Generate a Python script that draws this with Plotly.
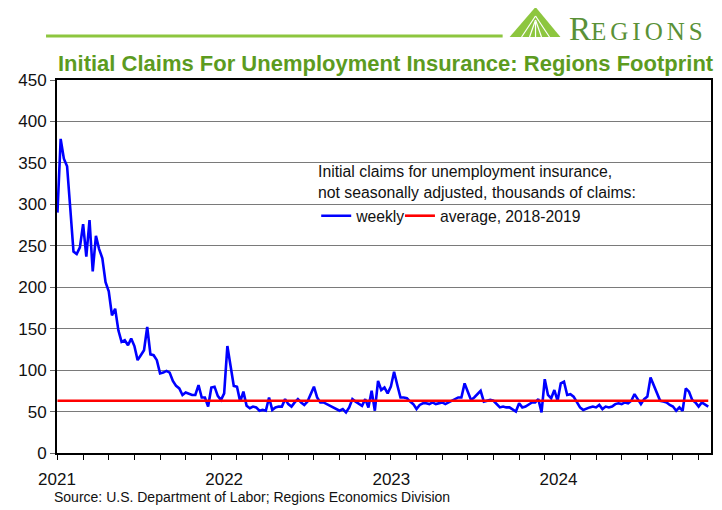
import pandas as pd
import plotly.graph_objects as go

# weekly initial claims, thousands, weeks ending from 2021-01-02
weekly = [
    290, 379, 355, 346, 295, 243, 240, 248, 276, 237,
    281, 219, 262, 246, 235, 206, 195, 166, 174, 148,
    134, 136, 130, 138, 129, 112, 118, 124, 152, 119,
    118, 112, 96, 97, 99, 97, 87, 81, 78, 70,
    73, 71, 70, 70, 82, 67, 67, 56, 79, 80,
    69, 64, 72, 129, 104, 81, 80, 62, 74, 57,
    54, 56, 55, 51, 52, 51, 67, 52, 55, 56,
    56, 65, 59, 56, 61, 65, 61, 58, 62, 70,
    80, 67, 61, 61, 59, 57, 55, 52, 51, 53,
    49, 55, 65, 62, 59, 57, 65, 55, 75, 51,
    87, 76, 79, 72, 80, 98, 82, 67, 67, 66,
    62, 59, 53, 58, 60, 60, 59, 61, 59, 60,
    61, 59, 61, 62, 64, 67, 67, 84, 74, 64,
    67, 71, 75, 62, 63, 64, 63, 59, 55, 56,
    55, 55, 52, 50, 60, 55, 56, 58, 61, 61,
    65, 49, 89, 70, 66, 76, 63, 84, 86, 70,
    71, 68, 61, 55, 52, 54, 55, 56, 55, 58,
    53, 56, 55, 56, 59, 60, 59, 61, 60, 63,
    71, 65, 59, 65, 68, 91, 82, 74, 63, 62,
    61, 58, 56, 51, 55, 51, 78, 74, 64, 61,
    56, 61, 59, 56,
]
first_week = "2021-01-02"
average_2018_2019 = 63
year_labels = ["2021", "2022", "2023", "2024"]
year_dates = ["2021-01-01", "2022-01-01", "2023-01-01", "2024-01-01"]

dates = pd.date_range(start=first_week, periods=len(weekly), freq="7D")

# page offset (body margin) and plot area in page pixels
OFF = 8
W, H = 722 - OFF, 510 - OFF
L, R, T, B = 57 - OFF, 713 - OFF, 80 - OFF, 453 - OFF


def px(x):
    # page x pixel -> paper coordinate
    return (x - OFF - L) / (R - L)


def py(y):
    # page y pixel -> paper coordinate
    return (B - (y - OFF)) / (B - T)


fig = go.Figure()
fig.add_trace(go.Scatter(
    x=dates, y=weekly, mode="lines", name="weekly",
    line=dict(color="#0000ff", width=2.6), legend="legend",
))
fig.add_trace(go.Scatter(
    x=[dates[0], dates[-1]], y=[average_2018_2019, average_2018_2019],
    mode="lines", name="average, 2018-2019",
    line=dict(color="#ff0000", width=2.6), legend="legend2",
))

shapes = []
# top green rule
shapes.append(dict(type="line", xref="paper", yref="paper",
                   x0=px(46), x1=px(504), y0=py(36), y1=py(36),
                   line=dict(color="#8dc63f", width=3)))
# logo triangle
shapes.append(dict(type="path", xref="paper", yref="paper",
                   path=f"M {px(511)},{py(37)} L {px(537)},{py(7)} L {px(562)},{py(37)} Z",
                   fillcolor="#8dc63f", line=dict(width=0)))
for (xa, ya, xb, yb) in [(537, 16, 523, 37), (537, 16, 551, 37), (537, 20, 531, 37),
                         (537, 20, 543, 37), (537, 22, 537, 37)]:
    shapes.append(dict(type="line", xref="paper", yref="paper",
                       x0=px(xa), y0=py(ya), x1=px(xb), y1=py(yb),
                       line=dict(color="white", width=1.2)))

annotations = [
    dict(text="<b>Initial Claims For Unemployment Insurance: Regions Footprint</b>",
         xref="paper", yref="paper", x=px(56), y=py(64), xanchor="left", yanchor="middle",
         showarrow=False,
         font=dict(family="Liberation Sans, Arial, sans-serif", size=22, color="#5c9b1f")),
    dict(text="R<span style='font-size:25px;letter-spacing:4px'>EGIONS</span>",
         xref="paper", yref="paper", x=px(569), y=py(49), xanchor="left", yanchor="bottom",
         showarrow=False, font=dict(family="Liberation Serif, serif", size=33, color="#5a9137")),
    dict(text="Initial claims for unemployment insurance,<br>not seasonally adjusted, thousands of claims:",
         xref="paper", yref="paper", x=px(317), y=py(182), xanchor="left", yanchor="middle",
         align="left", showarrow=False,
         font=dict(family="Liberation Sans, Arial, sans-serif", size=15.8, color="#111111")),
    dict(text="Source: U.S. Department of Labor; Regions Economics Division",
         xref="paper", yref="paper", x=px(52), y=py(497), xanchor="left", yanchor="middle",
         showarrow=False,
         font=dict(family="Liberation Sans, Arial, sans-serif", size=14, color="#111111")),
]

legend_style = dict(orientation="h", yanchor="middle", bgcolor="rgba(0,0,0,0)",
                    font=dict(size=15.7, color="#111111"), itemwidth=30)

fig.update_layout(
    width=W, height=H,
    margin=dict(l=L, r=W - R, t=T, b=H - B),
    paper_bgcolor="white", plot_bgcolor="white",
    font=dict(family="Liberation Sans, Arial, sans-serif", color="#111111"),
    showlegend=True,
    legend=dict(x=px(317), y=py(216), xanchor="left", **legend_style),
    legend2=dict(x=px(401), y=py(216), xanchor="left", **legend_style),
    shapes=shapes,
    annotations=annotations,
)
fig.update_xaxes(
    type="date",
    range=["2021-01-01", "2024-11-29"],
    tickmode="array", tickvals=year_dates, ticktext=year_labels,
    ticks="", ticklen=0, tickfont=dict(size=17, color="#111111"),
    ticklabelstandoff=10,
    showgrid=False, zeroline=False,
    showline=True, linecolor="black", linewidth=2, mirror=True,
    minor=dict(tick0=first_week, dtick=56 * 86400000, ticks="outside",
               ticklen=5, tickcolor="black", tickwidth=1.2, showgrid=False),
)
fig.update_yaxes(
    range=[0, 450], dtick=50, tick0=0,
    ticks="outside", ticklen=5, tickcolor="#666666",
    tickfont=dict(size=17, color="#111111"),
    showgrid=True, gridcolor="#7a7a7a", gridwidth=1.2, zeroline=False,
    showline=True, linecolor="black", linewidth=2, mirror=True,
)

fig.write_html("out.html")
